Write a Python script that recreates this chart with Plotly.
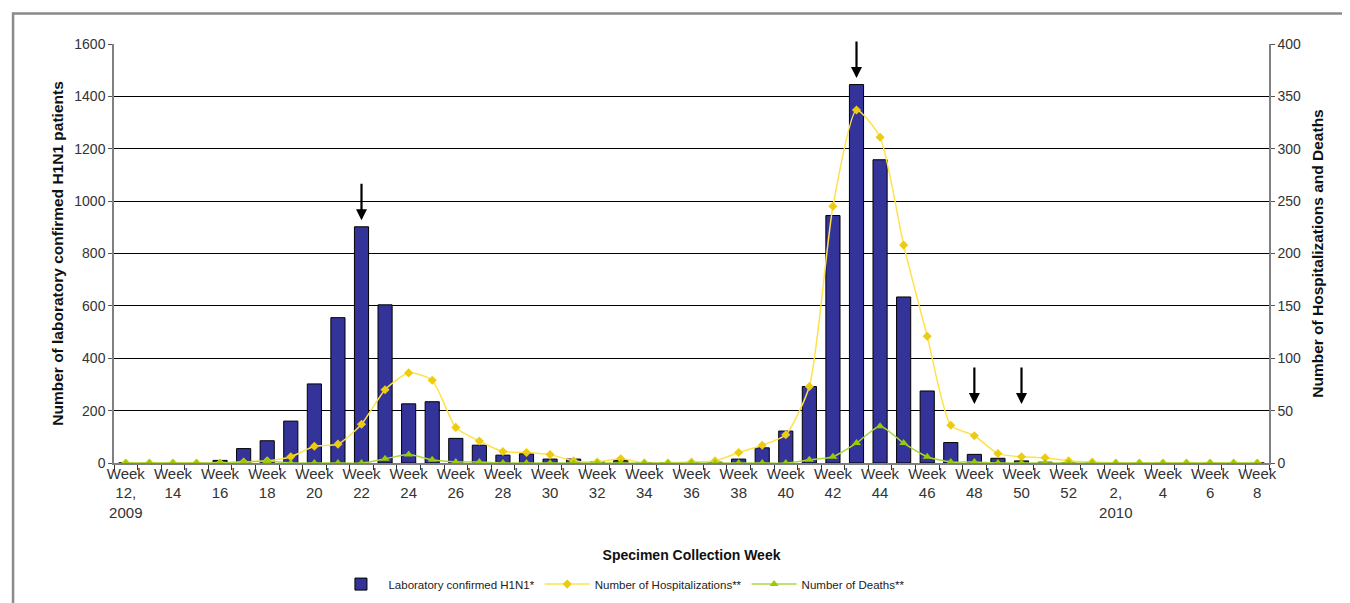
import plotly.graph_objects as go

weeks = list(range(12, 53)) + list(range(1, 9))
week_labels = []
for i, w in enumerate(weeks):
    if i == 0:
        week_labels.append("Week<br>12,<br>2009")
    elif w == 2:
        week_labels.append("Week<br>2,<br>2010")
    elif w % 2 == 0:
        week_labels.append("Week<br>%d" % w)
    else:
        week_labels.append("")

confirmed = [0, 0, 0, 0, 10, 55, 85, 160, 302, 555, 902, 604, 226, 234, 94, 68, 30, 35, 15, 15,
             5, 10, 2, 2, 2, 3, 15, 58, 122, 292, 945, 1445, 1158, 634, 275, 78, 33, 18, 8, 3,
             0, 0, 0, 0, 0, 0, 0, 0, 0]
hospitalizations = [0, 0, 0, 0, 0, 1, 2, 6, 16, 18, 37, 70, 86, 79, 34, 21, 11, 10, 8, 2,
                    1, 4, 0, 0, 1, 2, 10, 17, 27, 73, 245, 337, 311, 208, 121, 36, 26, 9, 6, 5,
                    2, 1, 0, 0, 0, 0, 0, 0, 0]
deaths = [0, 0, 0, 0, 0, 1, 2, 0, 0, 0, 0, 4, 8, 3, 1, 1, 0, 0, 0, 0,
          0, 0, 0, 0, 0, 0, 0, 0, 0, 3, 6, 19, 35, 19, 6, 1, 1, 0, 0, 0,
          0, 0, 0, 0, 0, 0, 0, 0, 0]
arrow_weeks = [22, 43, 48, 50]

x = list(range(len(weeks)))
tickvals = [i for i, t in enumerate(week_labels) if t]
ticktext = [t for t in week_labels if t]

FONT = "Liberation Sans, Arial, sans-serif"

fig = go.Figure()
fig.add_trace(go.Bar(x=x, y=confirmed, name="Laboratory confirmed H1N1*",
                     marker=dict(color="#333399", line=dict(color="#000000", width=1)),
                     width=0.6))
fig.add_trace(go.Scatter(x=x, y=hospitalizations, name="Number of Hospitalizations**",
                         yaxis="y2", mode="lines+markers",
                         line=dict(color="#FFE24A", width=1.5, shape="spline", smoothing=0.6),
                         marker=dict(symbol="diamond", size=7, color="#EDCC10")))
fig.add_trace(go.Scatter(x=x, y=deaths, name="Number of Deaths**",
                         yaxis="y2", mode="lines+markers",
                         line=dict(color="#A8D840", width=1.5, shape="spline", smoothing=0.6),
                         marker=dict(symbol="triangle-up", size=8, color="#99CC00")))

annotations = []
for w in arrow_weeks:
    i = weeks.index(w)
    top = confirmed[i]
    annotations.append(dict(x=i, y=max(top, 200) + 25, xref="x", yref="y",
                            ax=0, ay=-38, showarrow=True, arrowhead=2, arrowsize=1,
                            arrowwidth=2.2, arrowcolor="#000000", text=""))

fig.update_layout(
    width=1350, height=603,
    margin=dict(l=106, r=89, t=36, b=141),
    paper_bgcolor="white", plot_bgcolor="white",
    font=dict(family=FONT, size=14, color="#222222"),
    bargap=0.4,
    showlegend=True,
    legend=dict(orientation="h", x=0.19, xanchor="left", y=-0.289, yanchor="middle",
                itemwidth=45,
                font=dict(size=11.5, color="#222222"), traceorder="normal"),
    xaxis=dict(range=[-0.5, len(weeks) - 0.5], tickmode="array", tickvals=tickvals,
               ticktext=ticktext, ticks="", showgrid=False, showline=True,
               linecolor="#808080", linewidth=1.5, tickangle=0, automargin=False,
               ticklabelstandoff=-4,
               tickfont=dict(size=15, color="#333333"),
               minor=dict(ticks="outside", tick0=-0.5, dtick=1, ticklen=5,
                          tickcolor="#333333", showgrid=False),
               title=dict(text="<b>Specimen Collection Week</b>", font=dict(size=14, color="#111111"),
                          standoff=30)),
    yaxis=dict(range=[0, 1600], dtick=200, showgrid=True, gridcolor="#000000", gridwidth=1,
               showline=True, linecolor="#808080", linewidth=1.5, ticks="outside",
               ticklen=4, tickcolor="#555555", zeroline=False, automargin=False,
               tickfont=dict(size=14, color="#333333"),
               title=dict(text="<b>Number of laboratory confirmed H1N1 patients</b>",
                          font=dict(size=15.5, color="#111111"), standoff=7)),
    yaxis2=dict(range=[0, 400], dtick=50, overlaying="y", side="right", showgrid=False,
                showline=True, linecolor="#808080", linewidth=1.5, ticks="outside",
                ticklen=4, tickcolor="#555555", zeroline=False, automargin=False,
                tickfont=dict(size=14, color="#333333"),
                title=dict(text="<b>Number of Hospitalizations and Deaths</b>",
                           font=dict(size=15.5, color="#111111"), standoff=12)),
    annotations=annotations,
    shapes=[dict(type="rect", xref="paper", yref="paper", x0=-0.0874, x1=1.0745,
                 y0=-0.5, y1=1.0728, line=dict(color="#8a8a8a", width=2.5),
                 fillcolor="rgba(0,0,0,0)", layer="below")],
)

fig.write_html("out.html")
